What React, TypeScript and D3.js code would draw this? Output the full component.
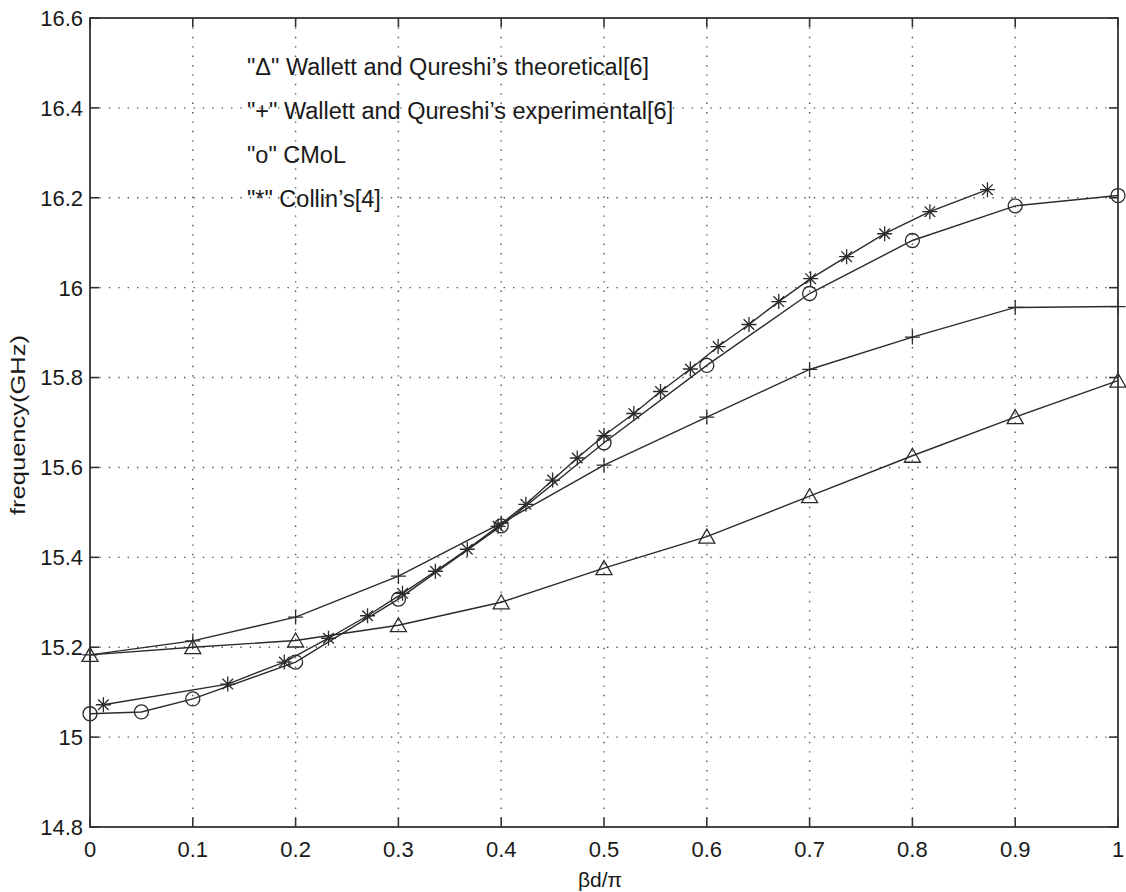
import React from "react";
import * as d3 from "d3";

const W = 1126;
const H = 892;
const plot = { left: 90, right: 1118, top: 18, bottom: 827 };

const xTicks = [0, 0.1, 0.2, 0.3, 0.4, 0.5, 0.6, 0.7, 0.8, 0.9, 1];
const xTickLabels = ["0", "0.1", "0.2", "0.3", "0.4", "0.5", "0.6", "0.7", "0.8", "0.9", "1"];
const yTicks = [14.8, 15, 15.2, 15.4, 15.6, 15.8, 16, 16.2, 16.4, 16.6];
const yTickLabels = ["14.8", "15", "15.2", "15.4", "15.6", "15.8", "16", "16.2", "16.4", "16.6"];

// Wallett and Qureshi, theoretical (triangles)
const theoryX = [0, 0.1, 0.2, 0.3, 0.4, 0.5, 0.6, 0.7, 0.8, 0.9, 1.0];
const theoryF = [15.183, 15.2, 15.215, 15.249, 15.3, 15.376, 15.446, 15.536, 15.626, 15.712, 15.793];

// Wallett and Qureshi, experimental (plus signs)
const exprX = [0, 0.1, 0.2, 0.3, 0.4, 0.5, 0.6, 0.7, 0.8, 0.9, 1.0];
const exprF = [15.183, 15.214, 15.267, 15.358, 15.476, 15.605, 15.712, 15.818, 15.89, 15.956, 15.958];

// CMoL (circles)
const cmolX = [0, 0.05, 0.1, 0.2, 0.3, 0.4, 0.5, 0.6, 0.7, 0.8, 0.9, 1.0];
const cmolF = [15.052, 15.056, 15.085, 15.167, 15.307, 15.47, 15.655, 15.827, 15.987, 16.105, 16.182, 16.205];

// Collin's (asterisks)
const collinX = [0.013, 0.134, 0.189, 0.232, 0.27, 0.304, 0.336, 0.367, 0.397, 0.424, 0.45, 0.474, 0.5, 0.529, 0.555, 0.584, 0.611, 0.641, 0.67, 0.701, 0.736, 0.773, 0.817, 0.873];
const collinF = [15.072, 15.118, 15.167, 15.22, 15.27, 15.32, 15.369, 15.418, 15.469, 15.518, 15.572, 15.621, 15.671, 15.72, 15.769, 15.819, 15.869, 15.918, 15.969, 16.02, 16.069, 16.12, 16.169, 16.218];

const legendLabels = [
  "\"\u0394\" Wallett and Qureshi\u2019s theoretical[6]",
  "\"+\" Wallett and Qureshi\u2019s experimental[6]",
  "\"o\" CMoL",
  "\"*\" Collin\u2019s[4]",
];

const xLabel = "\u03b2d/\u03c0";
const yLabel = "frequency(GHz)";

const FONT = "'Liberation Sans', Arial, Helvetica, sans-serif";
const INK = "#2b2b2b";

const x = d3.scaleLinear().domain([0, 1]).range([plot.left, plot.right]);
const y = d3.scaleLinear().domain([14.8, 16.6]).range([plot.bottom, plot.top]);

const line = d3
  .line<[number, number]>()
  .x((d) => x(d[0]))
  .y((d) => y(d[1]));

const zip = (xs: number[], fs: number[]): [number, number][] => xs.map((v, i) => [v, fs[i]]);

const triangle = "M0,-7.5L8,6.5L-8,6.5Z";
const plus = "M-7.5,0H7.5M0,-7.5V7.5";
const star = "M-7.5,0H7.5M0,-7.5V7.5M-5.3,-5.3L5.3,5.3M-5.3,5.3L5.3,-5.3";

type Series = { data: [number, number][]; marker: "tri" | "plus" | "circle" | "star" };

const series: Series[] = [
  { data: zip(theoryX, theoryF), marker: "tri" },
  { data: zip(exprX, exprF), marker: "plus" },
  { data: zip(cmolX, cmolF), marker: "circle" },
  { data: zip(collinX, collinF), marker: "star" },
];

function Marker({ kind, cx, cy }: { kind: Series["marker"]; cx: number; cy: number }) {
  const common = { fill: "none", stroke: INK, strokeWidth: 1.3 };
  if (kind === "circle") return <circle cx={cx} cy={cy} r={7} {...common} />;
  const d = kind === "tri" ? triangle : kind === "plus" ? plus : star;
  return <path d={d} transform={`translate(${cx},${cy})`} {...common} />;
}

export default function App() {
  const tickLen = 9;
  return (
    <svg
      width={W}
      height={H}
      viewBox={`0 0 ${W} ${H}`}
      style={{ position: "absolute", left: 0, top: 0, background: "#fff" }}
      fontFamily={FONT}
    >
      <rect x={0} y={0} width={W} height={H} fill="#fff" />

      {/* dotted grid */}
      <g stroke="#555" strokeWidth={1.4} strokeDasharray="1.4,8" fill="none">
        {xTicks.slice(1, -1).map((t) => (
          <line key={`gx${t}`} x1={x(t)} x2={x(t)} y1={plot.top} y2={plot.bottom} />
        ))}
        {yTicks.slice(1, -1).map((t) => (
          <line key={`gy${t}`} x1={plot.left} x2={plot.right} y1={y(t)} y2={y(t)} />
        ))}
      </g>

      {/* series lines and markers */}
      {series.map((s, i) => (
        <g key={`s${i}`}>
          <path d={line(s.data) || ""} fill="none" stroke={INK} strokeWidth={1.4} />
          {s.data.map((d, j) => (
            <Marker key={j} kind={s.marker} cx={x(d[0])} cy={y(d[1])} />
          ))}
        </g>
      ))}

      {/* axes box and ticks */}
      <rect
        x={plot.left}
        y={plot.top}
        width={plot.right - plot.left}
        height={plot.bottom - plot.top}
        fill="none"
        stroke="#333"
        strokeWidth={1.8}
      />
      <g stroke="#333" strokeWidth={1.6}>
        {xTicks.map((t) => (
          <g key={`tx${t}`}>
            <line x1={x(t)} x2={x(t)} y1={plot.bottom} y2={plot.bottom - tickLen} />
            <line x1={x(t)} x2={x(t)} y1={plot.top} y2={plot.top + tickLen} />
          </g>
        ))}
        {yTicks.map((t) => (
          <g key={`ty${t}`}>
            <line x1={plot.left} x2={plot.left + tickLen} y1={y(t)} y2={y(t)} />
            <line x1={plot.right} x2={plot.right - tickLen} y1={y(t)} y2={y(t)} />
          </g>
        ))}
      </g>

      {/* tick labels */}
      <g fill="#1a1a1a" fontSize={22}>
        {xTicks.map((t, i) => (
          <text key={`lx${t}`} x={x(t)} y={857} textAnchor="middle">
            {xTickLabels[i]}
          </text>
        ))}
        {yTicks.map((t, i) => (
          <text key={`ly${t}`} x={83} y={y(t)} dy="0.36em" textAnchor="end">
            {yTickLabels[i]}
          </text>
        ))}
      </g>

      {/* axis titles */}
      <text x={600} y={887} textAnchor="middle" fontSize={21} fill="#1a1a1a">
        {xLabel}
      </text>
      <text
        transform="translate(25,425) rotate(-90)"
        textAnchor="middle"
        fontSize={21}
        textLength={180}
        lengthAdjust="spacingAndGlyphs"
        fill="#1a1a1a"
      >
        {yLabel}
      </text>

      {/* legend notes */}
      <g fontSize={23.5} fill="#1a1a1a">
        {legendLabels.map((l, i) => (
          <text key={`lg${i}`} x={247} y={75 + i * 44}>
            {l}
          </text>
        ))}
      </g>
    </svg>
  );
}
